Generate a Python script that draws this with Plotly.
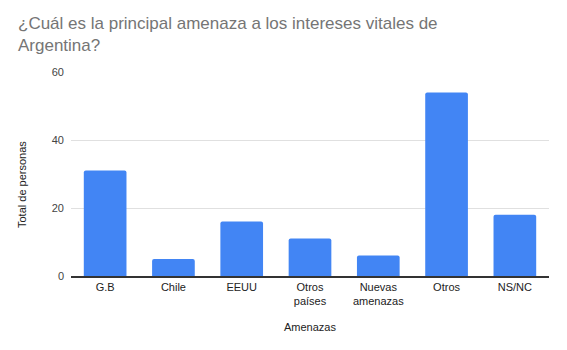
import plotly.graph_objects as go

categorias = ["G.B", "Chile", "EEUU", "Otros<br>países", "Nuevas<br>amenazas", "Otros", "NS/NC"]
total_personas = [31, 5, 16, 11, 6, 54, 18]
ticks_y = [0, 20, 40, 60]
titulo = ["¿Cuál es la principal amenaza a los intereses vitales de", "Argentina?"]

# plot area in pixels
L, R, T, B = 71, 18, 72, 74
W, H = 567, 350
pw, ph = W - L - R, H - T - B


def px_x(x):
    return (x - L) / pw


def px_y(y):
    return (H - B - y) / ph


fig = go.Figure(
    go.Bar(
        x=categorias,
        y=total_personas,
        marker=dict(color="#4285F4", line=dict(width=0)),
        hoverinfo="x+y",
    )
)

annotations = [
    # chart title, two lines
    dict(
        text="<br>".join(titulo),
        xref="paper", yref="paper",
        x=px_x(16), y=px_y(35),
        xanchor="left", yanchor="middle", align="left",
        showarrow=False,
        font=dict(size=17, color="#757575"),
    ),
    # vertical axis title
    dict(
        text="Total de personas",
        xref="paper", yref="paper",
        x=px_x(22), y=px_y(185),
        xanchor="center", yanchor="middle",
        textangle=-90,
        showarrow=False,
        font=dict(size=11, color="#222222"),
    ),
]

fig.update_layout(
    width=W,
    height=H,
    margin=dict(l=L, r=R, t=T, b=B),
    paper_bgcolor="white",
    plot_bgcolor="white",
    bargap=0.375,
    barcornerradius=2,
    font=dict(family="Liberation Sans, Arial, sans-serif", size=11, color="#222222"),
    annotations=annotations,
    showlegend=False,
)

fig.update_xaxes(
    title=dict(text="Amenazas", font=dict(size=11, color="#222222"), standoff=17),
    showline=True,
    linecolor="#333333",
    linewidth=1.5,
    showgrid=False,
    ticks="",
    tickfont=dict(size=11, color="#222222"),
)

fig.update_yaxes(
    range=[0, 60],
    tickvals=ticks_y,
    showgrid=True,
    gridcolor="#e0e0e0",
    gridwidth=1,
    zeroline=False,
    showline=False,
    ticks="",
    ticklabelstandoff=6,
    tickfont=dict(size=11, color="#444444"),
)

fig.write_html("out.html")
